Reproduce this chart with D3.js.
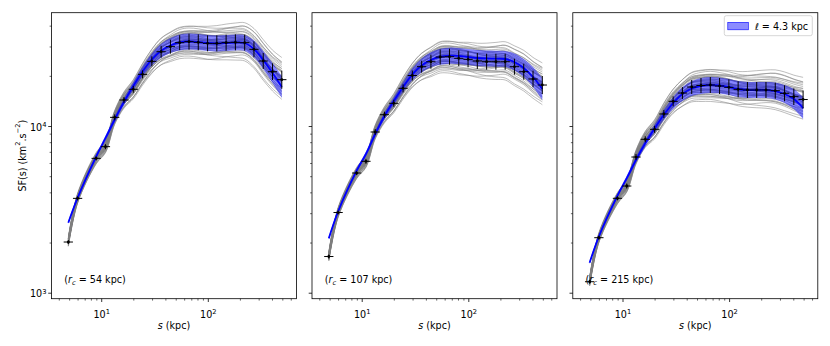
<!DOCTYPE html>
<html><head><meta charset="utf-8">
<script src="https://cdn.jsdelivr.net/npm/d3@7"></script>
<style>
body{margin:0;background:#fff}
svg{display:block}
text{font-family:"DejaVu Sans",sans-serif;fill:#000}
</style>
</head><body>
<svg id="c" width="830" height="346"></svg>
<script>
// ---------------- DATA ----------------
const sValues = [4.86, 5.94, 8.87, 10.84, 13.24, 16.18, 19.78, 24.17, 29.53, 36.09, 44.1, 53.9, 65.9, 80.5, 98.4, 120.2, 146.9, 179.5, 219.4, 268.1, 327.6, 400.3, 489.2];
const coreRadii = ["54", "107", "215"];

const sfData54  = [2028, 3707, 6442, 7570, 11350, 14420, 16720, 20550, 24600, 28100, 30130, 31840, 32290, 31990, 31540, 31540, 31840, 31990, 31840, 29040, 24720, 21320, 19100];
const sfData107 = [1660, 3048, 5260, 6185, 9270, 11770, 13780, 16950, 20230, 22850, 24470, 26120, 26230, 25650, 25300, 24720, 24470, 24470, 24470, 22850, 21320, 19280, 17740];
const sfData215 = [1172, 2153, 3710, 4396, 6561, 8380, 9620, 11890, 14160, 15880, 17260, 17620, 17740, 17500, 17180, 16720, 16560, 16560, 16560, 16400, 15820, 15100, 14520];

const model54  = [2649, 3733, 6607, 8511, 11020, 14060, 17500, 21380, 25230, 28440, 30620, 31920, 32360, 32140, 31700, 31480, 31700, 31920, 31700, 29170, 25060, 20940, 17260];
const model107 = [2133, 3090, 5433, 6839, 9016, 11560, 14230, 17260, 20560, 23230, 25120, 26180, 26610, 26480, 26120, 25760, 25590, 25530, 25410, 24380, 22440, 19820, 16790];
const model215 = [1524, 2188, 3846, 4898, 6310, 7943, 9727, 11750, 13840, 15670, 16900, 17500, 17740, 17620, 17260, 16790, 16560, 16560, 16560, 16330, 15670, 14620, 12910];

// uncertainties (dex)
const errDex  = [0.012, 0.012, 0.012, 0.015, 0.018, 0.018, 0.021, 0.024, 0.03, 0.036, 0.042, 0.045, 0.048, 0.048, 0.048, 0.048, 0.048, 0.048, 0.048, 0.048, 0.048, 0.05, 0.054];
const bandDex = [0.009, 0.012, 0.012, 0.015, 0.018, 0.021, 0.024, 0.03, 0.036, 0.042, 0.045, 0.048, 0.048, 0.048, 0.048, 0.048, 0.048, 0.048, 0.048, 0.051, 0.054, 0.06, 0.066];
const binHalfDex = 0.0435;

// realizations (grey curves): spread (dex) and per-curve shape coefficients
const graySpread = [0.012, 0.013, 0.015, 0.016, 0.018, 0.021, 0.025, 0.029, 0.033, 0.037, 0.04, 0.042, 0.043, 0.044, 0.045, 0.045, 0.045, 0.045, 0.045, 0.046, 0.047, 0.048, 0.05];
const tiltShape   = [-1, -0.91, -0.82, -0.73, -0.64, -0.55, -0.45, -0.36, -0.27, -0.18, -0.09, 0, 0.09, 0.18, 0.27, 0.36, 0.45, 0.55, 0.64, 0.73, 0.82, 0.91, 1];
const wiggleShape = [0, 0.3, 0.6, 0.85, 1, 0.95, 0.7, 0.35, 0, -0.4, -0.75, -0.95, -1, -0.85, -0.55, -0.2, 0.2, 0.55, 0.85, 1, 0.9, 0.6, 0.3];
const realizations = [
 [0.1,0.3,-0.2],[-0.6,0.2,0.4],[1.2,-0.4,0.1],[-1.5,0.5,-0.3],[0.4,-0.6,0.5],[-0.2,0.7,-0.5],[1.8,0.2,0.3],[-1.1,-0.3,0.2],
 [0.7,0.4,-0.4],[-0.9,-0.5,-0.2],[2.1,-0.3,-0.1],[-2.0,0.1,0.3],[0.0,-0.2,0.6],[0.9,0.6,0.2],[-0.4,-0.7,0.1],[1.4,0.1,-0.5],
 [-1.3,0.4,0.5],[0.3,-0.1,-0.6],[-0.7,0.0,0.0],[0.5,0.5,0.3],[1.1,-0.6,-0.3],[-1.7,-0.2,-0.4],[0.2,0.8,0.1],[-0.1,-0.4,-0.3],
 [1.6,0.4,0.4],[-0.8,0.6,-0.1],[0.6,-0.3,0.0],[-0.3,0.2,0.7],[1.0,0.0,-0.2],[-1.2,-0.6,0.3],[2.3,0.3,0.2],[-2.2,-0.1,-0.2],
 [0.8,-0.8,0.3],[-0.5,0.3,-0.6],[0.05,0.1,0.2],[1.3,0.7,-0.1],[-1.0,0.1,0.6],[0.35,-0.5,-0.4],[-0.25,0.5,0.2],[1.5,-0.2,0.0]
];

// axes
const xDomain = [3.38, 672];
const yDomain = [927, 48170];
const xMajorTicks = [10, 100];
const xMajorExp = ["1", "2"];
const xMinorTicks = [4,5,6,7,8,9,20,30,40,50,60,70,80,90,200,300,400,500,600];
const yMajorTicks = [1000, 10000];
const yMajorExp = ["3", "4"];
const yMinorTicks = [2000,3000,4000,5000,6000,7000,8000,9000,20000,30000,40000];
const legendLabel = "4.3 kpc";

const panels = [
 {data: sfData54,  model: model54,  rc: coreRadii[0]},
 {data: sfData107, model: model107, rc: coreRadii[1]},
 {data: sfData215, model: model215, rc: coreRadii[2]}
];

// ---------------- LAYOUT ----------------
const svg = d3.select("#c");
const panelLeft = [51.5, 312, 572.8];
const panelW = 245;
const plotTop = 12.7, plotBottom = 298.7;
const FS = 9.6;

const defs = svg.append("defs");

panels.forEach((p, i) => {
  const x0 = panelLeft[i], x1 = x0 + panelW;
  const x = d3.scaleLog().domain(xDomain).range([x0, x1]);
  const y = d3.scaleLog().domain(yDomain).range([plotBottom, plotTop]);
  const g = svg.append("g");

  defs.append("clipPath").attr("id", "clip" + i)
    .append("rect").attr("x", x0).attr("y", plotTop).attr("width", panelW).attr("height", plotBottom - plotTop);
  const plot = g.append("g").attr("clip-path", `url(#clip${i})`);

  const line = d3.line().x(d => x(d[0])).y(d => y(d[1])).curve(d3.curveCatmullRom.alpha(0.5));

  // grey realizations
  realizations.forEach(r => {
    const pts = sValues.map((s, k) => [s, p.data[k] * Math.pow(10, graySpread[k] * (r[0] + r[1] * tiltShape[k] + r[2] * wiggleShape[k]))]);
    plot.append("path").attr("d", line(pts))
      .attr("fill", "none").attr("stroke", "#808080").attr("stroke-width", 0.7).attr("stroke-opacity", 0.75);
  });

  // blue band
  const area = d3.area()
    .x((d, k) => x(sValues[k]))
    .y0((d, k) => y(d / Math.pow(10, bandDex[k])))
    .y1((d, k) => y(d * Math.pow(10, bandDex[k])))
    .curve(d3.curveCatmullRom.alpha(0.5));
  plot.append("path").attr("d", area(p.model))
    .attr("fill", "#0000ff").attr("fill-opacity", 0.47).attr("stroke", "none");

  // blue model line
  plot.append("path").attr("d", line(sValues.map((s, k) => [s, p.model[k]])))
    .attr("fill", "none").attr("stroke", "#0000ff").attr("stroke-width", 1.8);

  // data error bars
  const eb = plot.append("g").attr("stroke", "#000").attr("stroke-width", 1);
  sValues.forEach((s, k) => {
    const v = p.data[k];
    eb.append("line").attr("x1", x(s / Math.pow(10, binHalfDex))).attr("x2", x(s * Math.pow(10, binHalfDex)))
      .attr("y1", y(v)).attr("y2", y(v));
    eb.append("line").attr("x1", x(s)).attr("x2", x(s))
      .attr("y1", y(v / Math.pow(10, errDex[k]))).attr("y2", y(v * Math.pow(10, errDex[k])));
    plot.append("circle").attr("cx", x(s)).attr("cy", y(v)).attr("r", 1.4).attr("fill", "#000");
  });

  // frame
  g.append("rect").attr("x", x0).attr("y", plotTop).attr("width", panelW).attr("height", plotBottom - plotTop)
    .attr("fill", "none").attr("stroke", "#000").attr("stroke-width", 0.8);

  // x ticks
  const tk = g.append("g").attr("stroke", "#000").attr("stroke-width", 0.8);
  xMajorTicks.forEach((t, j) => {
    tk.append("line").attr("x1", x(t)).attr("x2", x(t)).attr("y1", plotBottom).attr("y2", plotBottom + 3.3);
    const tx = g.append("text").attr("x", x(t)).attr("y", 318).attr("text-anchor", "middle").attr("font-size", FS);
    tx.append("tspan").text("10");
    tx.append("tspan").attr("dy", -3.9).attr("font-size", FS * 0.7).text(xMajorExp[j]);
  });
  xMinorTicks.forEach(t => {
    tk.append("line").attr("x1", x(t)).attr("x2", x(t)).attr("y1", plotBottom).attr("y2", plotBottom + 1.9).attr("stroke-width", 0.6);
  });
  // y ticks
  yMajorTicks.forEach((t, j) => {
    tk.append("line").attr("x1", x0 - 3.3).attr("x2", x0).attr("y1", y(t)).attr("y2", y(t));
    if (i === 0) {
      const ty = g.append("text").attr("x", x0 - 5).attr("y", y(t) + 4.2).attr("text-anchor", "end").attr("font-size", FS);
      ty.append("tspan").text("10");
      ty.append("tspan").attr("dy", -3.9).attr("font-size", FS * 0.7).text(yMajorExp[j]);
    }
  });
  yMinorTicks.forEach(t => {
    tk.append("line").attr("x1", x0 - 1.9).attr("x2", x0).attr("y1", y(t)).attr("y2", y(t)).attr("stroke-width", 0.6);
  });

  // x label
  const xl = g.append("text").attr("x", (x0 + x1) / 2).attr("y", 328.5).attr("text-anchor", "middle").attr("font-size", FS);
  xl.append("tspan").attr("font-style", "italic").text("s");
  xl.append("tspan").text(" (kpc)");

  // annotation
  const an = g.append("text").attr("x", x0 + 12.8).attr("y", 282.5).attr("font-size", FS);
  an.append("tspan").text("(");
  an.append("tspan").attr("font-style", "italic").text("r");
  an.append("tspan").attr("dy", 2).attr("font-size", FS * 0.7).attr("font-style", "italic").text("c");
  an.append("tspan").attr("dy", -2).text(" = " + p.rc + " kpc)");

  // legend on last panel
  if (i === 2) {
    const lg = g.append("g");
    lg.append("rect").attr("x", x1 - 93.5).attr("y", 15.7).attr("width", 88).attr("height", 20)
      .attr("rx", 2).attr("fill", "#fff").attr("fill-opacity", 0.8).attr("stroke", "#cccccc").attr("stroke-width", 0.8);
    lg.append("rect").attr("x", x1 - 90).attr("y", 22.3).attr("width", 20.5).attr("height", 7.5)
      .attr("fill", "#0000ff").attr("fill-opacity", 0.45).attr("stroke", "#0000ff").attr("stroke-width", 0.6);
    const lt = lg.append("text").attr("x", x1 - 63).attr("y", 29.5).attr("font-size", FS);
    lt.append("tspan").attr("font-style", "italic").text("ℓ");
    lt.append("tspan").text(" = " + legendLabel);
  }
});

// y label
const yl = svg.append("text").attr("transform", "translate(21.5,155.7) rotate(-90)")
  .attr("text-anchor", "middle").attr("dominant-baseline", "central").attr("font-size", FS);
yl.append("tspan").text("SF(s) (km");
yl.append("tspan").attr("dy", -3.5).attr("font-size", FS * 0.7).text("2");
yl.append("tspan").attr("dy", 3.5).text(".s");
yl.append("tspan").attr("dy", -3.5).attr("font-size", FS * 0.7).text("−2");
yl.append("tspan").attr("dy", 3.5).text(")");
</script>
</body></html>
